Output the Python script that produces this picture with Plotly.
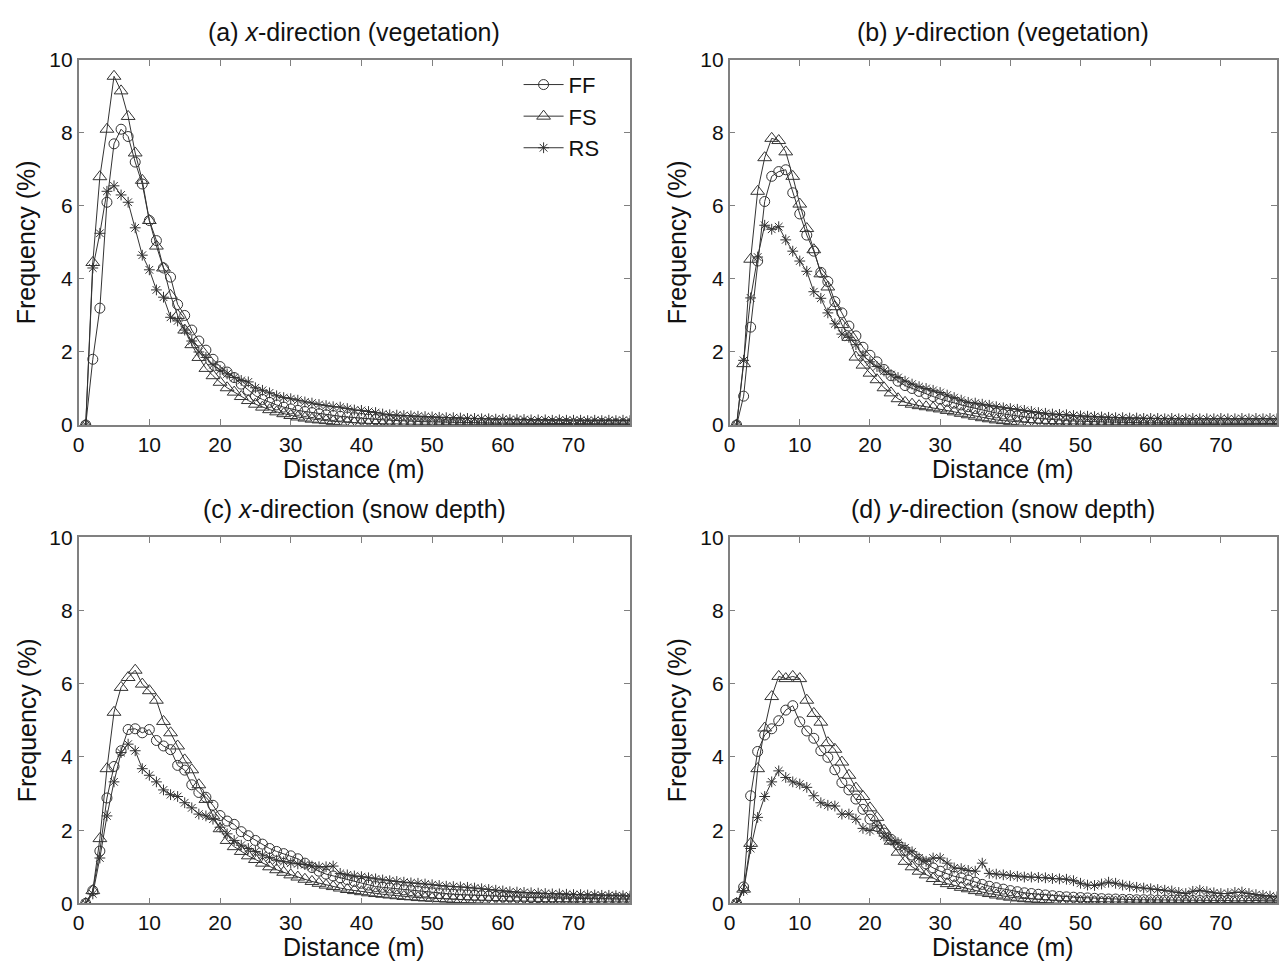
import plotly.graph_objects as go

# ---------------- data ----------------
x_ticks = [0, 10, 20, 30, 40, 50, 60, 70]
y_ticks = [0, 2, 4, 6, 8, 10]
series_names = ["FF", "FS", "RS"]
panel_titles = ["(a) <i>x</i>-direction (vegetation)", "(b) <i>y</i>-direction (vegetation)",
                "(c) <i>x</i>-direction (snow depth)", "(d) <i>y</i>-direction (snow depth)"]

a_FF = [0, 1.8, 3.2, 6.1, 7.7, 8.1, 7.9, 7.2, 6.6, 5.6, 5.05, 4.3, 4.05, 3.3, 3.0, 2.6, 2.3, 2.05, 1.8, 1.6,
        1.45, 1.3, 1.12, 0.95, 0.8, 0.7, 0.62, 0.55, 0.49, 0.44,
        0.4, 0.37, 0.34, 0.31, 0.28, 0.26, 0.24, 0.22, 0.2, 0.18,
        0.16, 0.15, 0.14, 0.13, 0.12, 0.11, 0.1, 0.1, 0.09, 0.09,
        0.08, 0.08, 0.07, 0.07, 0.07, 0.06, 0.06, 0.06, 0.05, 0.05,
        0.05, 0.05, 0.05, 0.04, 0.04, 0.04, 0.04, 0.04, 0.04, 0.03,
        0.04, 0.03, 0.03, 0.04, 0.03, 0.03, 0.03, 0.03]
a_FS = [0, 4.45, 6.8, 8.1, 9.55, 9.15, 8.45, 7.45, 6.7, 5.6, 4.9, 4.3, 3.55, 3.0, 2.6, 2.2, 1.85, 1.55, 1.35, 1.17,
        1.02, 0.9, 0.78, 0.67, 0.57, 0.49, 0.42, 0.36, 0.31, 0.26,
        0.22, 0.19, 0.16, 0.14, 0.12, 0.1, 0.08, 0.07, 0.06, 0.05,
        0.04, 0.04, 0.03, 0.03, 0.03, 0.02, 0.02, 0.02, 0.02, 0.02,
        0.02, 0.01, 0.01, 0.01, 0.01, 0.01, 0.01, 0.01, 0.01, 0.01,
        0.01, 0.01, 0.01, 0.01, 0.01, 0.01, 0.01, 0.01, 0.01, 0.01,
        0.01, 0.01, 0.01, 0.01, 0.01, 0.01, 0.01, 0.01]
a_RS = [0, 4.3, 5.25, 6.4, 6.55, 6.3, 6.1, 5.4, 4.65, 4.25, 3.7, 3.5, 2.95, 2.85, 2.6, 2.3, 2.0, 1.85, 1.65, 1.5,
        1.4, 1.3, 1.22, 1.18, 1.02, 0.95, 0.88, 0.8, 0.75, 0.72,
        0.68, 0.63, 0.6, 0.56, 0.53, 0.5, 0.49, 0.45, 0.41, 0.4,
        0.37, 0.34, 0.3, 0.28, 0.27, 0.26, 0.25, 0.24, 0.23, 0.22,
        0.21, 0.2, 0.2, 0.19, 0.18, 0.18, 0.17, 0.17, 0.16, 0.16,
        0.15, 0.15, 0.15, 0.14, 0.14, 0.14, 0.13, 0.14, 0.13, 0.13,
        0.13, 0.12, 0.13, 0.12, 0.13, 0.12, 0.13, 0.12]

b_FF = [0, 0.79, 2.68, 4.49, 6.12, 6.81, 6.94, 6.99, 6.36, 5.78, 5.2, 4.76, 4.18, 3.93, 3.38, 3.07, 2.71, 2.44, 2.13, 1.91,
        1.73, 1.52, 1.35, 1.2, 1.08, 1.0, 0.92, 0.85, 0.78, 0.71,
        0.65, 0.6, 0.55, 0.5, 0.45, 0.41, 0.37, 0.33, 0.3, 0.27,
        0.25, 0.22, 0.2, 0.18, 0.16, 0.14, 0.13, 0.12, 0.11, 0.1,
        0.09, 0.09, 0.08, 0.08, 0.08, 0.07, 0.07, 0.07, 0.06, 0.06,
        0.06, 0.06, 0.06, 0.05, 0.05, 0.05, 0.05, 0.05, 0.05, 0.05,
        0.05, 0.04, 0.05, 0.04, 0.04, 0.05, 0.04, 0.04]
b_FS = [0, 1.68, 4.54, 6.4, 7.32, 7.85, 7.79, 7.48, 6.81, 6.05, 5.38, 4.8, 4.14, 3.78, 3.24, 2.75, 2.4, 1.86, 1.64, 1.42,
        1.24, 1.02, 0.88, 0.72, 0.62, 0.57, 0.53, 0.5, 0.47, 0.44,
        0.4, 0.36, 0.32, 0.28, 0.24, 0.2, 0.17, 0.14, 0.12, 0.1,
        0.08, 0.07, 0.06, 0.05, 0.04, 0.04, 0.03, 0.03, 0.03, 0.02,
        0.02, 0.02, 0.02, 0.02, 0.01, 0.01, 0.01, 0.01, 0.01, 0.01,
        0.01, 0.01, 0.01, 0.01, 0.01, 0.01, 0.01, 0.01, 0.01, 0.01,
        0.01, 0.01, 0.01, 0.01, 0.01, 0.01, 0.01, 0.01]
b_RS = [0, 1.77, 3.48, 4.6, 5.47, 5.36, 5.43, 5.07, 4.76, 4.49, 4.21, 3.65, 3.47, 3.07, 2.77, 2.49, 2.4, 2.2, 1.91, 1.73,
        1.6, 1.48, 1.38, 1.3, 1.2, 1.12, 1.05, 1.0, 0.95, 0.89,
        0.82, 0.75, 0.68, 0.62, 0.6, 0.57, 0.54, 0.5, 0.47, 0.45,
        0.43, 0.4, 0.37, 0.34, 0.32, 0.3, 0.29, 0.28, 0.26, 0.25,
        0.24, 0.23, 0.22, 0.21, 0.2, 0.2, 0.19, 0.19, 0.18, 0.18,
        0.18, 0.17, 0.18, 0.17, 0.17, 0.18, 0.17, 0.17, 0.17, 0.18,
        0.17, 0.17, 0.18, 0.17, 0.18, 0.17, 0.18, 0.17]

c_FF = [0, 0.35, 1.43, 2.88, 3.74, 4.17, 4.75, 4.77, 4.66, 4.75, 4.45, 4.3, 4.2, 3.77, 3.64, 3.24, 3.03, 2.9, 2.68, 2.4,
        2.25, 2.16, 1.96, 1.85, 1.72, 1.62, 1.5, 1.42, 1.36, 1.3,
        1.22, 1.1, 0.98, 0.88, 0.8, 0.75, 0.7, 0.65, 0.6, 0.55,
        0.5, 0.46, 0.44, 0.42, 0.4, 0.37, 0.35, 0.33, 0.31, 0.29,
        0.27, 0.26, 0.25, 0.24, 0.23, 0.22, 0.21, 0.2, 0.19, 0.18,
        0.18, 0.17, 0.17, 0.16, 0.16, 0.15, 0.15, 0.14, 0.14, 0.14,
        0.13, 0.13, 0.13, 0.13, 0.12, 0.13, 0.12, 0.12]
c_FS = [0, 0.35, 1.77, 3.68, 5.22, 5.9, 6.17, 6.37, 5.99, 5.81, 5.55, 4.97, 4.66, 4.3, 3.92, 3.65, 3.24, 2.84, 2.39, 2.04,
        1.72, 1.55, 1.42, 1.3, 1.2, 1.1, 1.0, 0.92, 0.85, 0.78,
        0.72, 0.66, 0.6, 0.55, 0.5, 0.46, 0.42, 0.38, 0.35, 0.32,
        0.29, 0.27, 0.25, 0.23, 0.21, 0.19, 0.18, 0.16, 0.15, 0.14,
        0.13, 0.12, 0.11, 0.1, 0.1, 0.09, 0.09, 0.08, 0.08, 0.07,
        0.07, 0.07, 0.06, 0.06, 0.06, 0.05, 0.05, 0.05, 0.05, 0.05,
        0.04, 0.04, 0.04, 0.04, 0.04, 0.04, 0.04, 0.04]
c_RS = [0, 0.26, 1.24, 2.39, 3.32, 4.12, 4.35, 4.17, 3.68, 3.5, 3.32, 3.1, 2.97, 2.92, 2.75, 2.61, 2.44, 2.39, 2.3, 2.08,
        1.9, 1.72, 1.59, 1.5, 1.42, 1.32, 1.25, 1.18, 1.14, 1.1,
        1.08, 1.06, 1.02, 1.0, 1.0, 1.02, 0.82, 0.78, 0.75, 0.73,
        0.7, 0.67, 0.64, 0.62, 0.6, 0.58, 0.56, 0.55, 0.53, 0.51,
        0.49, 0.47, 0.46, 0.45, 0.44, 0.42, 0.4, 0.38, 0.36, 0.34,
        0.32, 0.31, 0.3, 0.29, 0.28, 0.27, 0.26, 0.26, 0.25, 0.24,
        0.24, 0.23, 0.23, 0.22, 0.22, 0.21, 0.21, 0.2]

d_FF = [0, 0.45, 2.94, 4.15, 4.6, 4.77, 4.99, 5.28, 5.4, 4.96, 4.71, 4.51, 4.17, 3.99, 3.65, 3.3, 3.1, 2.85, 2.57, 2.3,
        2.1, 1.92, 1.75, 1.6, 1.45, 1.32, 1.2, 1.08, 0.97, 0.88,
        0.8, 0.74, 0.7, 0.64, 0.58, 0.52, 0.47, 0.43, 0.39, 0.35,
        0.32, 0.29, 0.27, 0.25, 0.23, 0.21, 0.19, 0.18, 0.17, 0.16,
        0.15, 0.14, 0.13, 0.12, 0.12, 0.11, 0.11, 0.1, 0.1, 0.1,
        0.09, 0.09, 0.09, 0.09, 0.08, 0.08, 0.08, 0.08, 0.08, 0.08,
        0.08, 0.07, 0.08, 0.07, 0.08, 0.07, 0.08, 0.07]
d_FS = [0, 0.39, 1.64, 3.68, 4.79, 5.65, 6.2, 6.14, 6.2, 6.14, 5.55, 5.19, 4.95, 4.39, 4.21, 3.86, 3.5, 3.15, 2.92, 2.61,
        2.35, 2.0, 1.7, 1.4, 1.15, 1.0, 0.88, 0.78, 0.68, 0.6,
        0.54, 0.49, 0.44, 0.4, 0.35, 0.31, 0.27, 0.23, 0.2, 0.17,
        0.15, 0.13, 0.12, 0.11, 0.1, 0.09, 0.08, 0.07, 0.06, 0.06,
        0.05, 0.05, 0.04, 0.04, 0.04, 0.04, 0.03, 0.03, 0.03, 0.03,
        0.03, 0.03, 0.03, 0.03, 0.02, 0.02, 0.02, 0.02, 0.02, 0.02,
        0.02, 0.02, 0.02, 0.02, 0.02, 0.02, 0.02, 0.02]
d_RS = [0, 0.35, 1.5, 2.35, 2.92, 3.32, 3.62, 3.44, 3.32, 3.26, 3.17, 2.94, 2.75, 2.68, 2.66, 2.44, 2.44, 2.3, 2.05, 1.99,
        2.12, 1.84, 1.72, 1.66, 1.52, 1.41, 1.24, 1.15, 1.24, 1.24,
        1.1, 0.97, 0.95, 0.9, 0.88, 1.1, 0.82, 0.8, 0.78, 0.76,
        0.74, 0.72, 0.72, 0.71, 0.7, 0.68, 0.67, 0.66, 0.62, 0.55,
        0.5, 0.49, 0.53, 0.58, 0.55, 0.5, 0.47, 0.44, 0.42, 0.4,
        0.38, 0.36, 0.34, 0.3, 0.27, 0.33, 0.36, 0.32, 0.29, 0.27,
        0.27, 0.3, 0.31, 0.27, 0.24, 0.22, 0.2, 0.18]

panels = [(a_FF, a_FS, a_RS), (b_FF, b_FS, b_RS), (c_FF, c_FS, c_RS), (d_FF, d_FS, d_RS)]

# ---------------- styling ----------------
W, H = 1279, 973
FONT = "Arial, Liberation Sans, Helvetica, sans-serif"
AX_COLOR = "#808080"
LINE_COLOR = "#333333"
markers = [dict(symbol="circle-open", size=10, line=dict(width=1, color=LINE_COLOR)),
           dict(symbol="triangle-up-open", size=12, line=dict(width=1, color=LINE_COLOR)),
           dict(symbol="asterisk-open", size=9, line=dict(width=1, color="#111"))]

# pixel boxes of the four plot areas: (left, right, top, bottom)
boxes = [(73, 627, 49, 423), (727, 1277, 49, 423), (73, 627, 538, 913), (727, 1277, 538, 913)]

fig = go.Figure()
for i, (series, box) in enumerate(zip(panels, boxes)):
    n = "" if i == 0 else str(i + 1)
    for j, (name, ys) in enumerate(zip(series_names, series)):
        fig.add_trace(go.Scatter(
            x=list(range(1, len(ys) + 1)), y=ys, name=name, mode="lines+markers",
            line=dict(color=LINE_COLOR, width=1), marker=dict(color=LINE_COLOR, **markers[j]),
            xaxis="x" + n, yaxis="y" + n, showlegend=(i == 0)))
    l, r, t, b = box
    common = dict(showgrid=False, zeroline=False, showline=True, linecolor=AX_COLOR, linewidth=1.5,
                  mirror="ticks", ticks="inside", ticklen=6, tickcolor=AX_COLOR, tickwidth=1,
                  tickfont=dict(family=FONT, size=21, color="#111"))
    fig.layout["xaxis" + n] = dict(domain=[l / W, r / W], range=[0, 78], tickvals=x_ticks,
                                   anchor="y" + n, **common)
    fig.layout["yaxis" + n] = dict(domain=[1 - b / H, 1 - t / H], range=[0, 10], tickvals=y_ticks,
                                   anchor="x" + n, **common)
    cx = (l + r) / 2 / W
    fig.add_annotation(text=panel_titles[i], x=cx, y=1 - (t - 29) / H, xref="paper", yref="paper",
                       showarrow=False, font=dict(family=FONT, size=25, color="#111"),
                       xanchor="center", yanchor="middle")
    fig.add_annotation(text="Distance (m)", x=cx, y=1 - (b + 45) / H, xref="paper", yref="paper",
                       showarrow=False, font=dict(family=FONT, size=25, color="#111"),
                       xanchor="center", yanchor="middle")
    fig.add_annotation(text="Frequency (%)", x=(l - 52) / W, y=1 - (t + b) / 2 / H, xref="paper",
                       yref="paper", textangle=-90, showarrow=False,
                       font=dict(family=FONT, size=25, color="#111"),
                       xanchor="center", yanchor="middle")

fig.update_layout(
    width=W, height=H, margin=dict(l=0, r=0, t=0, b=0),
    paper_bgcolor="white", plot_bgcolor="white",
    legend=dict(x=515 / W, y=1 - 53 / H, xanchor="left", yanchor="top", bgcolor="rgba(0,0,0,0)",
                font=dict(family=FONT, size=22, color="#111"), tracegroupgap=0, itemwidth=40),
)
fig.write_html("out.html", config={"displayModeBar": False},
               post_script="document.body.style.margin='0';document.body.style.padding='0';"
                           "document.body.style.overflow='hidden';"
                           "document.documentElement.style.overflow='hidden';")
